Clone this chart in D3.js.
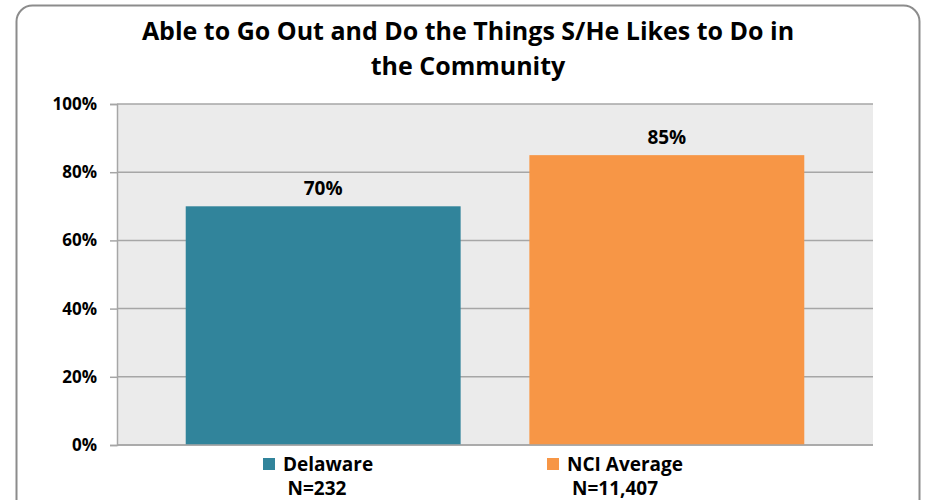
<!DOCTYPE html>
<html>
<head>
<meta charset="utf-8">
<script src="https://cdn.jsdelivr.net/npm/d3@7"></script>
<style>
  html, body { margin: 0; padding: 0; background: #fff; }
  svg { display: block; font-family: "Open Sans", "Liberation Sans", Arial, sans-serif; }
</style>
</head>
<body>
<svg id="chart" width="926" height="500"></svg>
<script>
const titleLines = ["Able to Go Out and Do the Things S/He Likes to Do in", "the Community"];
const categories = ["Delaware", "NCI Average"];
const sampleSizes = ["N=232", "N=11,407"];
const values = [70, 85];
const colors = ["#31849b", "#f79646"];
const yTicks = [0, 20, 40, 60, 80, 100];

const FONT = "'Open Sans', 'Liberation Sans', Arial, sans-serif";
const svg = d3.select("#chart");
const plot = { left: 117, right: 873, top: 104, bottom: 445 };

// outer rounded border
svg.append("rect")
  .attr("x", 16.5).attr("y", 5.5)
  .attr("width", 903).attr("height", 520)
  .attr("rx", 16).attr("ry", 16)
  .attr("fill", "#fff").attr("stroke", "#8c8c8c").attr("stroke-width", 2);

// title
const title = svg.append("text")
  .attr("text-anchor", "middle")
  .attr("font-family", FONT)
  .attr("font-weight", "bold").attr("font-size", 25).attr("fill", "#000");
titleLines.forEach((t, i) => {
  title.append("tspan").attr("x", 468).attr("y", 40 + i * 35).text(t);
});

const x = d3.scaleBand()
  .domain(categories)
  .range([plot.left, plot.right])
  .paddingInner(0.2).paddingOuter(0.2);

const y = d3.scaleLinear().domain([0, 100]).range([plot.bottom, plot.top]);

// plot background
svg.append("rect")
  .attr("x", plot.left).attr("y", plot.top)
  .attr("width", plot.right - plot.left).attr("height", plot.bottom - plot.top)
  .attr("fill", "#ebebeb");

// gridlines
svg.append("g")
  .selectAll("line").data(yTicks).join("line")
  .attr("x1", plot.left).attr("x2", plot.right)
  .attr("y1", d => y(d)).attr("y2", d => y(d))
  .attr("stroke", "#a6a6a6").attr("stroke-width", 1.5);

// y axis
const yAxis = svg.append("g")
  .attr("transform", `translate(${plot.left},0)`)
  .call(d3.axisLeft(y).tickValues(yTicks).tickFormat(d => d + "%").tickSize(7).tickPadding(13));
yAxis.select(".domain").attr("stroke", "#a6a6a6").attr("stroke-width", 1.5);
yAxis.selectAll(".tick line").attr("stroke", "#a6a6a6").attr("stroke-width", 1.5);
yAxis.selectAll(".tick text")
  .attr("font-family", FONT)
  .attr("font-size", 17).attr("font-weight", "bold").attr("fill", "#000");

// bars
svg.append("g").selectAll("rect").data(values).join("rect")
  .attr("x", (d, i) => x(categories[i]))
  .attr("width", x.bandwidth())
  .attr("y", d => y(d))
  .attr("height", d => y(0) - y(d))
  .attr("fill", (d, i) => colors[i]);

// value labels
svg.append("g").selectAll("text").data(values).join("text")
  .attr("x", (d, i) => x(categories[i]) + x.bandwidth() / 2)
  .attr("y", d => y(d) - 11)
  .attr("text-anchor", "middle")
  .attr("font-family", FONT)
  .attr("font-size", 19).attr("font-weight", "bold").attr("fill", "#000")
  .text(d => d + "%");

// bottom axis line
svg.append("line")
  .attr("x1", plot.left).attr("x2", plot.right)
  .attr("y1", plot.bottom).attr("y2", plot.bottom)
  .attr("stroke", "#a6a6a6").attr("stroke-width", 1.5);

// legend
const legendX = [263, 547];
const legendCenter = [317, 615];
const lg = svg.append("g").attr("font-family", FONT);
categories.forEach((c, i) => {
  lg.append("rect")
    .attr("x", legendX[i]).attr("y", 458)
    .attr("width", 12).attr("height", 12)
    .attr("fill", colors[i]);
  lg.append("text")
    .attr("x", legendX[i] + 20).attr("y", 471)
    .attr("font-size", 19).attr("font-weight", "bold").attr("fill", "#000")
    .text(c);
  lg.append("text")
    .attr("x", legendCenter[i]).attr("y", 495)
    .attr("text-anchor", "middle")
    .attr("font-size", 19).attr("font-weight", "bold").attr("fill", "#000")
    .text(sampleSizes[i]);
});
</script>
</body>
</html>
